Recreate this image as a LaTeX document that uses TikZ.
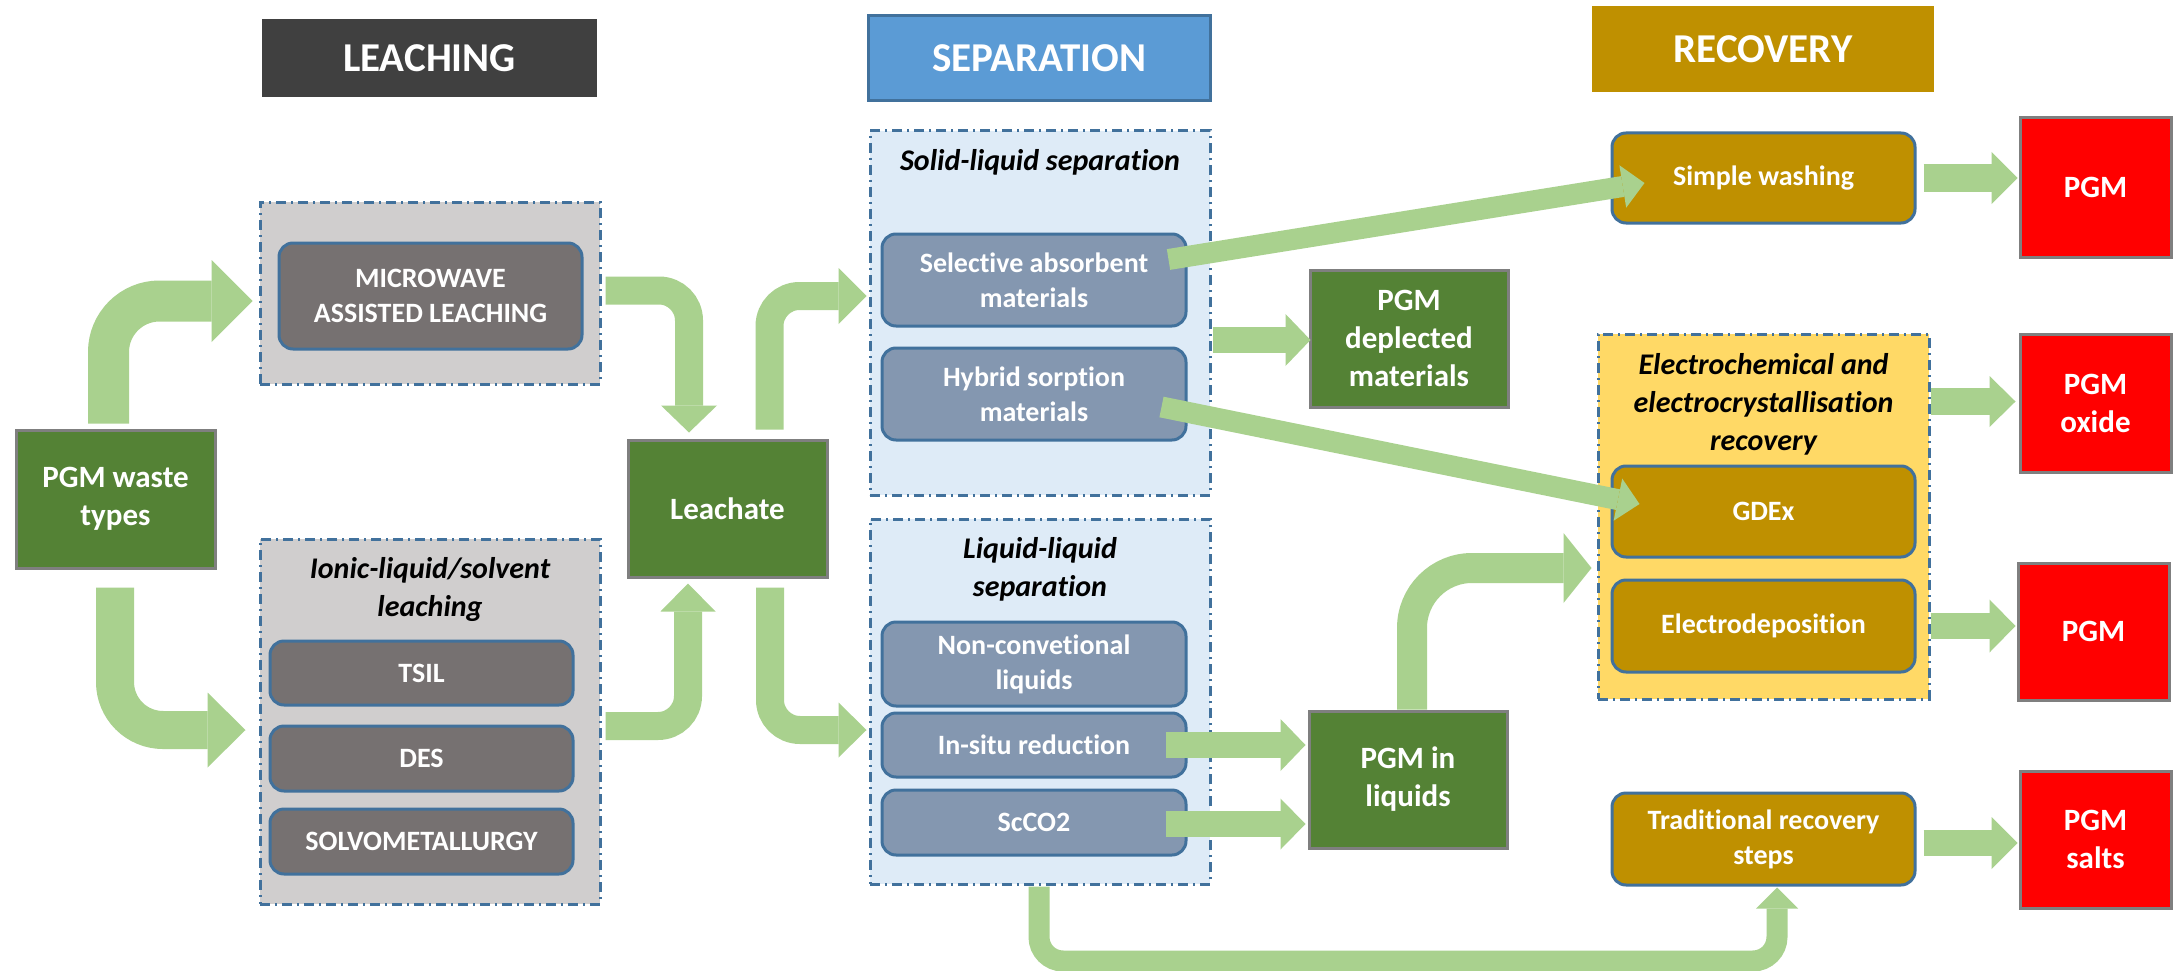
\documentclass[tikz,border=0pt]{standalone}
\usepackage{fontspec}
\setmainfont{Carlito}[RawFeature={-liga}]
\usetikzlibrary{arrows.meta,calc}
\definecolor{agreen}{HTML}{A9D18E}
\definecolor{dgreen}{HTML}{548235}
\definecolor{bgrayline}{HTML}{7F7F7F}
\definecolor{hdark}{HTML}{404040}
\definecolor{sepblue}{HTML}{5B9BD5}
\definecolor{slate}{HTML}{41719C}
\definecolor{gold}{HTML}{BF9000}
\definecolor{lgray}{HTML}{D0CECE}
\definecolor{mgray}{HTML}{767171}
\definecolor{lblue}{HTML}{DEEBF7}
\definecolor{bgray}{HTML}{8497B0}
\definecolor{lyellow}{HTML}{FFD966}
\definecolor{pred}{HTML}{FF0000}
\tikzset{
  sz/.style 2 args={minimum width=#1pt, minimum height=#2pt},
  header/.style={inner sep=0pt, text=white, font=\bfseries\fontsize{41}{49}\selectfont},
  container/.style={inner sep=0pt, draw=slate, line width=3pt, dash pattern=on 10pt off 5pt on 2pt off 5pt},
  rbox/.style={inner sep=0pt, rounded corners=14pt, draw=slate, line width=3pt, text=white, align=center, font=\bfseries\fontsize{28}{35}\selectfont},
  gbox/.style={inner sep=0pt, fill=dgreen, draw=bgrayline, line width=3pt, text=white, align=center, font=\bfseries\fontsize{31}{38}\selectfont},
  redbox/.style={inner sep=0pt, fill=pred, draw=bgrayline, line width=3pt, text=white, align=center, font=\bfseries\fontsize{31}{38}\selectfont},
  ctitle/.style={inner sep=0pt, align=center, text=black, font=\bfseries\itshape\fontsize{30}{38}\selectfont},
  fat/.style n args={3}{draw=agreen, line width=#1pt, -{Triangle[length=#3pt, width=#2pt, line width=0pt]}},
}
\begin{document}
\begin{tikzpicture}[x=1pt,y=-1pt]
\useasboundingbox[fill=white] (0,0) rectangle (2177,971);

% headers
\node[header, fill=hdark, sz={335}{78}] (lh) at (429.5,58) {LEACHING};
\node[header, fill=sepblue, draw=slate, line width=3pt, sz={342}{85}] (sh) at (1039,58.5) {SEPARATION};
\node[header, fill=gold, sz={342}{86}] (rh) at (1763,49) {RECOVERY};

% containers
\node[container, fill=lgray, sz={340}{182}] (mwc) at (430,293) {};
\node[container, fill=lgray, sz={340}{365}] (ilc) at (430,721.5) {};
\node[container, fill=lblue, sz={340}{364}] (slc) at (1040,313) {};
\node[container, fill=lblue, sz={340}{365}] (llc) at (1040,701.5) {};
\node[container, fill=lyellow, sz={331}{365}] (ecc) at (1763.5,516.5) {};

% container titles
\node[ctitle] (ilt) at (430,589) {Ionic-liquid/solvent\\leaching};
\node[ctitle] (slt) at (1040,162) {Solid-liquid separation};
\node[ctitle] (llt) at (1040,569) {Liquid-liquid\\separation};
\node[ctitle] (ect) at (1763.5,404.5) {Electrochemical and\\electrocrystallisation\\recovery};

% rounded boxes
\node[rbox, fill=mgray, sz={303}{106}] (mw) at (430.5,296) {MICROWAVE\\ASSISTED LEACHING};
\node[rbox, fill=mgray, sz={303}{64}] (tsil) at (421.5,673) {TSIL};
\node[rbox, fill=mgray, sz={303}{65}] (des) at (421.5,758.5) {DES};
\node[rbox, fill=mgray, sz={303}{65}] (solvo) at (421.5,841.5) {SOLVOMETALLURGY};
\node[rbox, fill=bgray, sz={304}{92}] (sel) at (1034,280) {Selective absorbent\\materials};
\node[rbox, fill=bgray, sz={304}{92}] (hyb) at (1034,394) {Hybrid sorption\\materials};
\node[rbox, fill=bgray, sz={304}{84}] (nonc) at (1034,664) {Non-convetional\\liquids};
\node[rbox, fill=bgray, sz={304}{64}] (insitu) at (1034,745) {In-situ reduction};
\node[rbox, fill=bgray, sz={304}{65}] (sc) at (1034,822.5) {ScCO2};
\node[rbox, fill=gold, sz={303}{90}] (wash) at (1763.5,178) {Simple washing};
\node[rbox, fill=gold, sz={303}{91}] (gdex) at (1763.5,511.5) {GDEx};
\node[rbox, fill=gold, sz={303}{92}] (edep) at (1763.5,626) {Electrodeposition};
\node[rbox, fill=gold, sz={303}{92}] (trad) at (1763.5,839) {Traditional recovery\\steps};

% green boxes
\node[gbox, sz={199}{138}] (waste) at (115.5,499) {PGM waste\\types};
\node[gbox, sz={199}{137}] (leach) at (727.5,508.5) {Leachate};
\node[gbox, sz={198}{137}] (depl) at (1409,338.5) {PGM\\deplected\\materials};
\node[gbox, sz={198}{137}] (inliq) at (1408,779.5) {PGM in\\liquids};

% red boxes
\node[redbox, sz={151}{139}] (pgm1) at (2095.5,187.5) {PGM};
\node[redbox, sz={151}{138}] (pgmox) at (2095.5,403) {PGM\\oxide};
\node[redbox, sz={151}{137}] (pgm2) at (2093.5,631.5) {PGM};
\node[redbox, sz={151}{137}] (pgmsalt) at (2095.5,839.5) {PGM\\salts};

% bent arrows
\draw[fat={41}{82}{41}, rounded corners=51pt] ($(waste.north)+(-7,-5)$) |- ($(mwc.west)+(-6,8)$);
\draw[fat={38}{75}{38}, rounded corners=48pt] ($(waste.south)+(-0.5,18)$) |- ($(ilc.west)+(-13,8.5)$);
\draw[fat={28}{56}{27}, rounded corners=30pt] ($(mwc.east)+(4,-2.5)$) -| ($(leach.north)+(-38.5,-6)$);
\draw[fat={28}{55}{28}, rounded corners=30pt] ($(ilc.east)+(4,4.5)$) -| ($(leach.south)+(-39.5,5)$);
\draw[fat={28}{56}{28}, rounded corners=30pt] ($(leach.north)+(42,-9)$) |- ($(slc.west)+(-2,-17)$);
\draw[fat={28}{55}{28}, rounded corners=30pt] ($(leach.south)+(42.5,9)$) |- ($(llc.west)+(-2,28.5)$);
\draw[fat={30}{70}{28}, rounded corners=60pt] ($(inliq.north)+(4,0)$) |- ($(ecc.west)+(-5,51.5)$);
\draw[fat={21}{42}{21}, rounded corners=24pt] ($(llc.south)+(-1,1)$) |- ($(trad.south)+(13.5,74.5)$) -- ($(trad.south)+(13.5,1)$);

% straight arrows
\draw[fat={21}{43}{22}] ($(sel.east)+(-19,-20.5)$) -- ($(wash.west)+(34,5)$);
\draw[fat={21}{43}{22}] ($(hyb.east)+(-26,13)$) -- ($(gdex.west)+(29,-7.5)$);
\draw[fat={26}{52}{25}] ($(slc.east)+(1,27)$) -- ($(depl.west)+(2,1.5)$);
\draw[fat={27}{52}{26}] ($(wash.east)+(7,0)$) -- ($(pgm1.west)+(-1,-9.5)$);
\draw[fat={27}{51}{26}] ($(ecc.east)+(0,-115)$) -- ($(pgmox.west)+(-3,-1.5)$);
\draw[fat={26}{53}{26}] ($(edep.east)+(14,0)$) -- ($(pgm2.west)+(-1,-5.5)$);
\draw[fat={26}{52}{26}] ($(trad.east)+(7,4)$) -- ($(pgmsalt.west)+(-1,3.5)$);
\draw[fat={26}{52}{25}] ($(insitu.east)+(-22,0)$) -- ($(inliq.west)+(-2,-34.5)$);
\draw[fat={26}{51}{25}] ($(sc.east)+(-22,1.5)$) -- ($(inliq.west)+(-2,44.5)$);
\end{tikzpicture}
\end{document}
